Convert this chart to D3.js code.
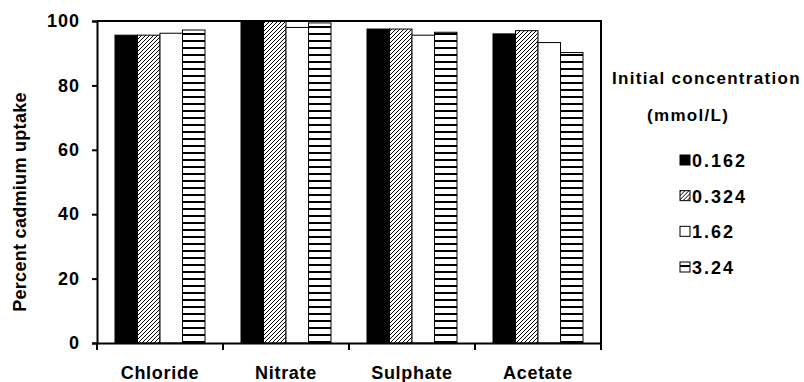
<!DOCTYPE html>
<html>
<head>
<meta charset="utf-8">
<script src="https://cdn.jsdelivr.net/npm/d3@7"></script>
<style>
  body { margin: 0; background: #fff; }
  svg { display: block; font-family: "Liberation Sans", Arial, sans-serif; font-weight: bold; }
</style>
</head>
<body>
<div id="chart"></div>
<script>
const categories = ["Chloride", "Nitrate", "Sulphate", "Acetate"]
const concentrations = ["0.162", "0.324", "1.62", "3.24"]

// percent uptake per anion, one array per initial concentration
const uptake0162 = [95.6, 100, 97.5, 96.0]
const uptake0324 = [95.6, 100, 97.5, 97.0]
const uptake162 = [96.2, 98.0, 95.6, 93.3]
const uptake324 = [97.2, 99.4, 96.5, 90.2]

const yTicks = [0, 20, 40, 60, 80, 100]

const seriesValues = [uptake0162, uptake0324, uptake162, uptake324]
const data = categories.map((c, i) => ({
  category: c,
  bars: concentrations.map((s, j) => ({ series: s, value: seriesValues[j][i] }))
}))

const width = 804
const height = 382
const margin = { top: 21, right: 203, bottom: 39, left: 97 }

const svg = d3.select("#chart")
  .append("svg")
  .attr("width", width)
  .attr("height", height)

// fills
const defs = svg.append("defs")
const hatch = defs.append("pattern")
  .attr("id", "hatch")
  .attr("patternUnits", "userSpaceOnUse")
  .attr("width", 4)
  .attr("height", 4)
hatch.append("rect").attr("width", 4).attr("height", 4).attr("fill", "#fff")
hatch.append("path")
  .attr("d", "M-1,1 l2,-2 M0,4 l4,-4 M3,5 l2,-2")
  .attr("stroke", "#000")
  .attr("stroke-width", 1)

const stripes = defs.append("pattern")
  .attr("id", "stripes")
  .attr("patternUnits", "userSpaceOnUse")
  .attr("width", 10)
  .attr("height", 7)
stripes.append("rect").attr("width", 10).attr("height", 7).attr("fill", "#fff")
stripes.append("rect").attr("y", 5).attr("width", 10).attr("height", 2).attr("fill", "#000")

const fillFor = {
  "0.162": "#000",
  "0.324": "url(#hatch)",
  "1.62": "#fff",
  "3.24": "url(#stripes)"
}

const x0 = d3.scaleBand()
  .domain(categories)
  .range([margin.left, width - margin.right])

const x1 = d3.scaleBand()
  .domain(concentrations)
  .range([0, x0.bandwidth()])
  .paddingOuter(0.8)

const y = d3.scaleLinear()
  .domain([0, 100])
  .range([height - margin.bottom, margin.top])

// bars
svg.append("g")
  .selectAll("g")
  .data(data)
  .join("g")
  .attr("transform", d => `translate(${x0(d.category)},0)`)
  .selectAll("rect")
  .data(d => d.bars)
  .join("rect")
  .attr("x", d => x1(d.series))
  .attr("y", d => y(d.value))
  .attr("width", x1.bandwidth())
  .attr("height", d => y(0) - y(d.value))
  .attr("fill", d => fillFor[d.series])
  .attr("stroke", "#000")
  .attr("stroke-width", 1)

// frame top and right
svg.append("path")
  .attr("d", `M${x0.range()[0]},${y(100)}H${x0.range()[1]}V${y(0)}`)
  .attr("fill", "none")
  .attr("stroke", "#000")
  .attr("stroke-width", 2)

// y axis
const yAxis = svg.append("g")
  .attr("transform", `translate(${margin.left},0)`)
  .call(d3.axisLeft(y).tickValues(yTicks).tickSize(5).tickPadding(12))
yAxis.selectAll("path, line").attr("stroke", "#000").attr("stroke-width", 2)
yAxis.selectAll("text")
  .attr("fill", "#000")
  .style("font-size", "18px")
  .style("font-weight", "bold")
  .style("letter-spacing", "1px")
  .style("font-family", "'Liberation Sans', Arial, sans-serif")

// x axis: labels at band centres, ticks at band edges
const xAxis = svg.append("g")
  .attr("transform", `translate(0,${y(0)})`)
  .call(d3.axisBottom(x0).tickSize(0).tickSizeOuter(0))
xAxis.select(".domain").attr("stroke", "#000").attr("stroke-width", 2)
xAxis.selectAll("text")
  .attr("fill", "#000")
  .attr("y", 36)
  .attr("dy", 0)
  .style("font-size", "18px")
  .style("font-weight", "bold")
  .style("letter-spacing", "0.7px")
  .style("font-family", "'Liberation Sans', Arial, sans-serif")

const edges = categories.map(c => x0(c)).concat([x0.range()[1]])
xAxis.selectAll(".edge")
  .data(edges)
  .join("line")
  .attr("class", "edge")
  .attr("x1", d => d)
  .attr("x2", d => d)
  .attr("y1", 0)
  .attr("y2", 7)
  .attr("stroke", "#000")
  .attr("stroke-width", 2)

// y title
svg.append("text")
  .attr("transform", `translate(26,${(y(0) + y(100)) / 2 + 20}) rotate(-90)`)
  .attr("text-anchor", "middle")
  .style("font-size", "18px")
  .style("letter-spacing", "0.3px")
  .text("Percent cadmium uptake")

// legend
const legend = svg.append("g")
legend.append("text")
  .attr("x", 612)
  .attr("y", 84)
  .style("font-size", "17px")
  .style("letter-spacing", "1.3px")
  .text("Initial concentration")
legend.append("text")
  .attr("x", 647)
  .attr("y", 121)
  .style("font-size", "17px")
  .style("letter-spacing", "1.3px")
  .text("(mmol/L)")

const rowY = d3.scalePoint()
  .domain(concentrations)
  .range([160, 267])

const item = legend.selectAll(".item")
  .data(concentrations)
  .join("g")
  .attr("class", "item")
  .attr("transform", d => `translate(680,${rowY(d)})`)

item.append("rect")
  .attr("x", 0)
  .attr("y", -5)
  .attr("width", 10)
  .attr("height", 10)
  .attr("fill", d => fillFor[d])
  .attr("stroke", "#000")
  .attr("stroke-width", 1)

item.append("text")
  .attr("x", 12)
  .attr("y", 7)
  .style("font-size", "18px")
  .style("letter-spacing", "2px")
  .text(d => d)
</script>
</body>
</html>
